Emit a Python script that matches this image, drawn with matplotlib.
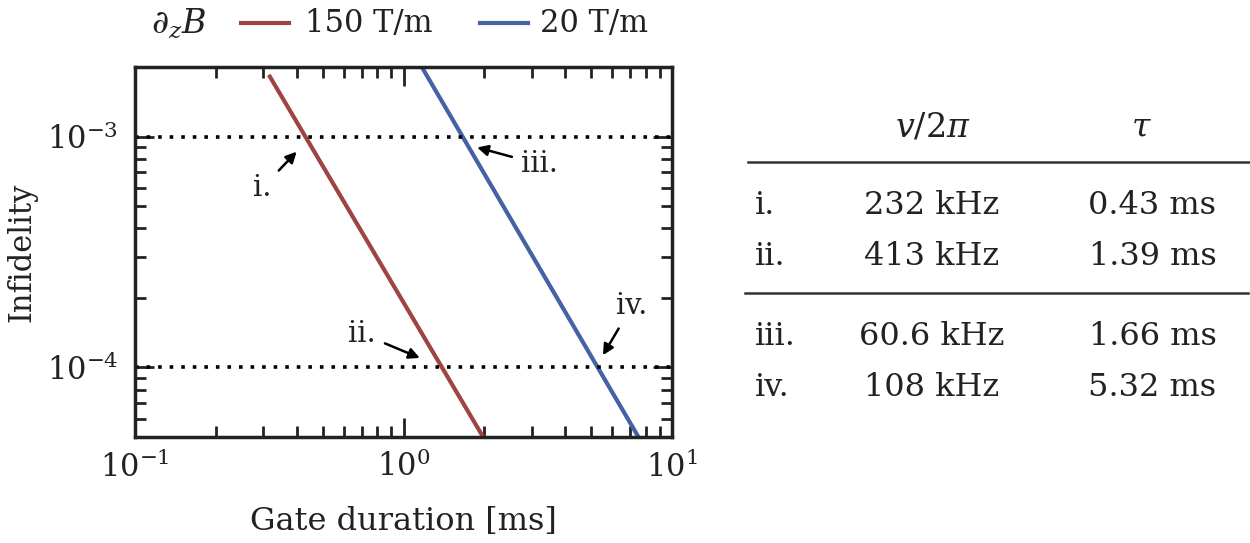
import matplotlib
matplotlib.use("Agg")
import matplotlib.pyplot as plt
import numpy as np

plt.rcParams['font.family'] = ['DejaVu Serif']
plt.rcParams['mathtext.fontset'] = 'dejavuserif'

# Data
red_x = [0.315, 1.98]
red_y = [1.85e-3, 5.0e-5]
blue_x = [1.17, 7.5]
blue_y = [2.0e-3, 5.0e-5]
series_labels = ['150 T/m', '20 T/m']
thresholds = [1e-3, 1e-4]

row_labels = ['i.', 'ii.', 'iii.', 'iv.']
freqs = ['232 kHz', '413 kHz', '60.6 kHz', '108 kHz']
taus = ['0.43 ms', '1.39 ms', '1.66 ms', '5.32 ms']

red = '#9e4543'
blue = '#4462a4'
txtc = '#222222'

fig = plt.figure(figsize=(12.5, 5.43), dpi=100)
ax = fig.add_axes([0.108, 0.1952, 0.4296, 0.6814])

ax.plot(red_x, red_y, color=red, lw=3, solid_capstyle='butt')
ax.plot(blue_x, blue_y, color=blue, lw=3, solid_capstyle='butt')
for t in thresholds:
    ax.axhline(t, color='black', ls=(0, (1, 2.2)), lw=2.6)

ax.set_xscale('log')
ax.set_yscale('log')
ax.set_xlim(0.1, 10)
ax.set_ylim(5e-5, 2e-3)

for s in ax.spines.values():
    s.set_linewidth(2.5)
    s.set_color('#222222')
ax.tick_params(which='both', direction='in', top=True, right=True, width=2,
               labelsize=22, colors='#222222')
ax.tick_params(which='major', length=14)
ax.tick_params(which='minor', length=8)
ax.tick_params(axis='x', which='major', pad=10)
ax.tick_params(axis='y', which='major', pad=12)
ax.set_xlabel('Gate duration [ms]', fontsize=23, labelpad=16, color=txtc)
ax.set_ylabel('Infidelity', fontsize=22, labelpad=7, color=txtc)

# annotations: (label, arrow tip, text position)
ann = [
    ('i.', (0.40, 8.6e-4), (0.297, 5.97e-4)),
    ('ii.', (1.15, 1.10e-4), (0.70, 1.40e-4)),
    ('iii.', (1.88, 8.97e-4), (3.22, 7.57e-4)),
    ('iv.', (5.53, 1.13e-4), (7.1, 1.85e-4)),
]
for lab, tip, txt in ann:
    ax.annotate(lab, xy=tip, xytext=txt, fontsize=21, ha='center', va='center', color=txtc,
                arrowprops=dict(arrowstyle='-|>', color='black', lw=1.8,
                                mutation_scale=16, shrinkA=5, shrinkB=0))

# legend on top
ly = 0.957
fig.text(0.121, ly, r'$\partial_z B$', fontsize=24, ha='left', va='center', color=txtc)
lx = [(0.193, 0.231), (0.384, 0.422)]
tx = [0.244, 0.432]
for (a, b), c, t, lab in zip(lx, [red, blue], tx, series_labels):
    fig.add_artist(plt.Line2D([a, b], [ly, ly], color=c, lw=3, transform=fig.transFigure))
    fig.text(t, ly, lab, fontsize=22, ha='left', va='center', color=txtc)

# table
fig.text(0.746, 0.765, r'$\mathit{v}/2\pi$', fontsize=24, ha='center', va='center', color=txtc)
fig.text(0.913, 0.765, r'$\tau$', fontsize=24, ha='center', va='center', color=txtc)
fig.add_artist(plt.Line2D([0.598, 1.0], [0.702, 0.702], color='#333333', lw=1.8, transform=fig.transFigure))
fig.add_artist(plt.Line2D([0.596, 0.998], [0.461, 0.461], color='#333333', lw=1.8, transform=fig.transFigure))
row_y = [0.622, 0.527, 0.380, 0.287]
for y, lab, f, t in zip(row_y, row_labels, freqs, taus):
    fig.text(0.604, y, lab, fontsize=23, ha='left', va='center', color=txtc)
    fig.text(0.745, y, f, fontsize=23, ha='center', va='center', color=txtc)
    fig.text(0.922, y, t, fontsize=23, ha='center', va='center', color=txtc)

fig.savefig('out.png', dpi=100)
